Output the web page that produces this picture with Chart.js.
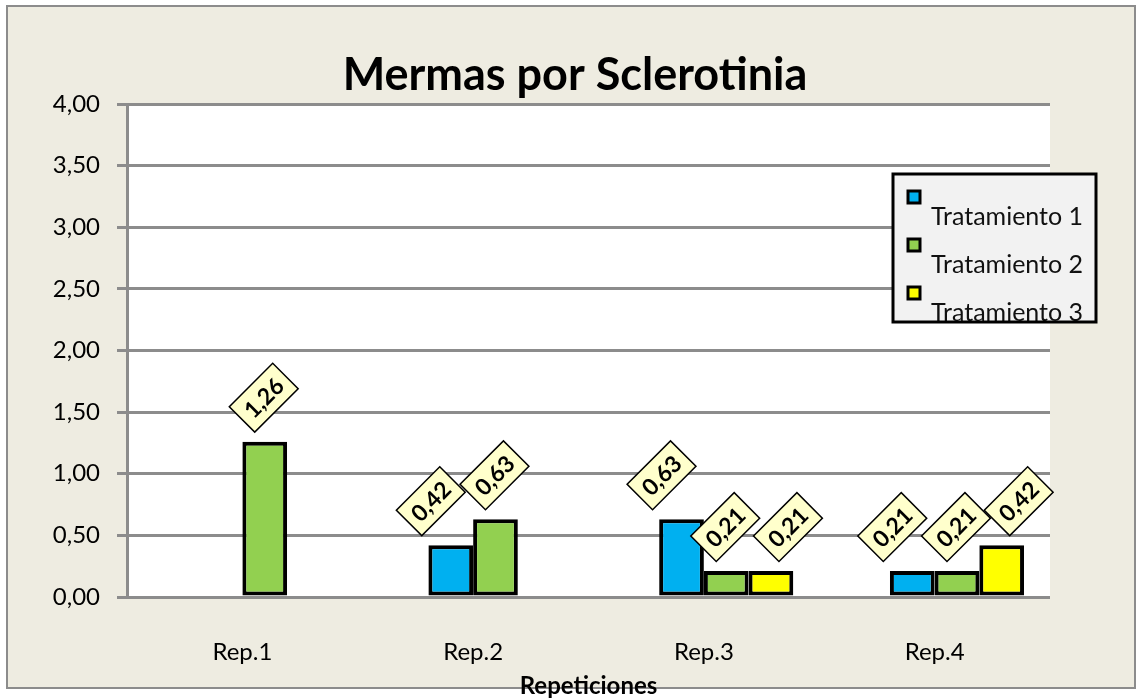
<!DOCTYPE html>
<html>
<head>
<meta charset="utf-8">
<script src="https://cdn.jsdelivr.net/npm/chart.js@4.4.1/dist/chart.umd.min.js"></script>
<style>
  html, body { margin: 0; padding: 0; background: #fff; }
  #wrap { width: 1141px; height: 699px; }
</style>
</head>
<body>
<div id="wrap"><canvas id="grafico"></canvas></div>
<script>
// datos del gráfico
const titulo = 'Mermas por Sclerotinia';
const categorias = ['Rep.1', 'Rep.2', 'Rep.3', 'Rep.4'];
const tratamiento1 = [null, 0.42, 0.63, 0.21];
const tratamiento2 = [1.26, 0.63, 0.21, 0.21];
const tratamiento3 = [null, null, 0.21, 0.42];
const nombresSeries = ['Tratamiento 1', 'Tratamiento 2', 'Tratamiento 3'];
const coloresSeries = ['#00B0F0', '#92D050', '#FFFF00'];

const fuente = 'Lato, "Open Sans", sans-serif';
const formato = v => v.toFixed(2).replace('.', ',');
// desplazamiento horizontal de las etiquetas por serie (estilo)
const desplazEtiqueta = [-20, -1, 17];

// fondo beige, borde exterior, área blanca y título
const fondo = {
    id: 'fondo',
    beforeDraw(chart) {
        const ctx = chart.ctx;
        const a = chart.chartArea;
        ctx.save();
        ctx.fillStyle = '#EEECE1';
        ctx.fillRect(7, 6, 1128, 682);
        ctx.strokeStyle = '#8c8c8c';
        ctx.lineWidth = 2;
        ctx.strokeRect(7, 6, 1128, 682);
        ctx.fillStyle = '#ffffff';
        ctx.fillRect(a.left, a.top, a.right - a.left, a.bottom - a.top);
        ctx.fillStyle = '#000';
        ctx.font = 'bold 45px ' + fuente;
        ctx.textAlign = 'center';
        ctx.textBaseline = 'middle';
        ctx.fillText(titulo, 575, 75);
        ctx.restore();
    }
};

// etiquetas de valor giradas
const etiquetas = {
    id: 'etiquetas',
    afterDatasetsDraw(chart) {
        const ctx = chart.ctx;
        ctx.save();
        ctx.font = 'bold 23px ' + fuente;
        chart.data.datasets.forEach((ds, i) => {
            if (!ds.label) return;
            const meta = chart.getDatasetMeta(i);
            const dx = desplazEtiqueta[i - 1];
            meta.data.forEach((bar, j) => {
                const v = ds.data[j];
                if (v === null || v === undefined) return;
                const txt = formato(v);
                const w = ctx.measureText(txt).width + 16;
                const h = 36;
                ctx.save();
                ctx.translate(bar.x + dx, bar.y - 44);
                ctx.rotate(-Math.PI / 4);
                ctx.fillStyle = '#FFFFCC';
                ctx.strokeStyle = '#000';
                ctx.lineWidth = 1.5;
                ctx.fillRect(-w / 2, -h / 2, w, h);
                ctx.strokeRect(-w / 2, -h / 2, w, h);
                ctx.fillStyle = '#000';
                ctx.textAlign = 'center';
                ctx.textBaseline = 'middle';
                ctx.fillText(txt, 0, 1);
                ctx.restore();
            });
        });
        ctx.restore();
    }
};

// leyenda al estilo Excel
const leyenda = {
    id: 'leyenda',
    afterDraw(chart) {
        const ctx = chart.ctx;
        const x = 893, y = 174, w = 203, h = 148;
        ctx.save();
        ctx.fillStyle = '#F2F2F2';
        ctx.fillRect(x, y, w, h);
        ctx.beginPath();
        ctx.rect(x, y, w, h);
        ctx.clip();
        ctx.font = '25px ' + fuente;
        ctx.textBaseline = 'middle';
        nombresSeries.forEach((nombre, i) => {
            const my = y + 17 + i * 48;
            ctx.fillStyle = coloresSeries[i];
            ctx.fillRect(908, my, 12, 12);
            ctx.strokeStyle = '#000';
            ctx.lineWidth = 3;
            ctx.strokeRect(908, my, 12, 12);
            ctx.fillStyle = '#111';
            ctx.fillText(nombre, 931, my + 26);
        });
        ctx.restore();
        ctx.save();
        ctx.strokeStyle = '#000';
        ctx.lineWidth = 3;
        ctx.strokeRect(x, y, w, h);
        ctx.restore();
    }
};

const series = [tratamiento1, tratamiento2, tratamiento3];
const datasets = [
    // serie vacía que desplaza el grupo como en el original
    { label: '', data: [], backgroundColor: 'transparent', borderWidth: 0,
      categoryPercentage: 0.775, barPercentage: 1 }
];
series.forEach((datos, i) => {
    datasets.push({
        label: nombresSeries[i],
        data: datos,
        backgroundColor: coloresSeries[i],
        borderColor: '#000',
        borderWidth: 4,
        borderSkipped: false,
        categoryPercentage: 0.775,
        barPercentage: 1
    });
});

new Chart(document.getElementById('grafico'), {
    type: 'bar',
    data: { labels: categorias, datasets: datasets },
    options: {
        responsive: true,
        maintainAspectRatio: false,
        animation: false,
        layout: { padding: { left: 0, right: 91, top: 104, bottom: 0 } },
        plugins: {
            legend: { display: false },
            tooltip: { enabled: false },
            title: { display: false }
        },
        scales: {
            x: {
                grid: { display: false, drawTicks: false },
                border: { display: false },
                ticks: { color: '#000', padding: 41, font: { family: fuente, size: 24 } },
                title: {
                    display: true,
                    text: 'Repeticiones',
                    color: '#000',
                    font: { family: fuente, size: 24, weight: 'bold', lineHeight: 1.2 },
                    padding: { top: 0, bottom: -2 }
                },
                afterFit(scale) { scale.height = 102; }
            },
            y: {
                min: 0,
                max: 4,
                ticks: {
                    stepSize: 0.5,
                    color: '#000',
                    padding: 17,
                    font: { family: fuente, size: 24 },
                    callback: v => formato(v)
                },
                grid: { color: '#8c8c8c', lineWidth: 3, tickLength: 10 },
                border: { display: true, color: '#8c8c8c', width: 3 },
                afterFit(scale) { scale.width = 127; }
            }
        }
    },
    plugins: [fondo, etiquetas, leyenda]
});
</script>
</body>
</html>
